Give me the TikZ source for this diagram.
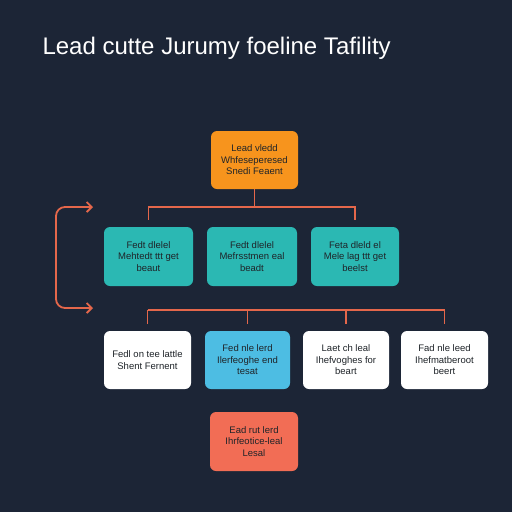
\documentclass[tikz,border=0pt]{standalone}
\usepackage{fontspec}
\setmainfont{Liberation Sans}
\usetikzlibrary{arrows.meta,calc}
\definecolor{bgnavy}{HTML}{1C2536}
\definecolor{wirered}{HTML}{E4674B}
\definecolor{leadorange}{HTML}{F7941D}
\definecolor{leadteal}{HTML}{2BB8B3}
\definecolor{leadblue}{HTML}{4DBDE3}
\definecolor{leadred}{HTML}{F26D55}
\definecolor{inkdark}{HTML}{1F2429}
\tikzset{
  leadbox/.style={rounded corners=6pt,align=center,inner sep=2pt,
    font=\fontsize{9.5}{11.5}\selectfont,text=inkdark},
  wire/.style={draw=wirered,line width=1.8pt}
}
\begin{document}
\begin{tikzpicture}[x=1pt,y=-1pt]
			\fill[bgnavy](0,0) rectangle (512,512);
			\node[anchor=base west,text=white,font=\fontsize{24}{28}\selectfont] (title) at(39,54){Lead cutte Jurumy foeline Tafility};
			% top box
			\node[leadbox,fill=leadorange,minimum width=87pt,minimum height=58pt] (top) at(254.5,160){Lead vledd\\Whfeseperesed\\Snedi Feaent};
			% teal row
			\node[leadbox,fill=leadteal,minimum width=89pt,minimum height=59pt] (t1) at(148.5,256.5){Fedt dlelel\\Mehtedt ttt get\\beaut};
			\node[leadbox,fill=leadteal,minimum width=90pt,minimum height=59pt] (t2) at(252,256.5){Fedt dlelel\\Mefrsstmen eal\\beadt};
			\node[leadbox,fill=leadteal,minimum width=88pt,minimum height=59pt] (t3) at(355,256.5){Feta dleld el\\Mele lag ttt get\\beelst};
			% second row
			\node[leadbox,fill=white,minimum width=87pt,minimum height=58pt] (b1) at(147.5,360){Fedl on tee lattle\\Shent Fernent};
			\node[leadbox,fill=leadblue,minimum width=85pt,minimum height=58pt] (b2) at(247.5,360){Fed nle lerd\\Ilerfeoghe end\\tesat};
			\node[leadbox,fill=white,minimum width=86pt,minimum height=58pt] (b3) at(346,360){Laet ch leal\\Ihefvoghes for\\beart};
			\node[leadbox,fill=white,minimum width=87pt,minimum height=58pt] (b4) at(444.5,360){Fad nle leed\\Ihefmatberoot\\beert};
			% bottom box
			\node[leadbox,fill=leadred,minimum width=88pt,minimum height=59pt] (last) at(254,441.5){Ead rut lerd\\Ihrfeotice-leal\\Lesal};
			% connectors
			\draw[wire](top.south)--++(0,18) coordinate(bus1);
			\draw[wire,shorten >=7pt](bus1)-|(t1.north);
			\draw[wire,shorten >=7pt](bus1)-|(t3.north);
			\coordinate (bus2) at(0,310);
			\draw[wire](b1.north|-bus2)--(b4.north|-bus2);
			\foreach \b in {b1,b2,b3,b4}
			\draw[wire,shorten >=7pt](\b.north|-bus2)--(\b.north);
			% loop arrow
			\coordinate (la) at(93,207);
			\coordinate (lb) at(93,308);
			\draw[wire,rounded corners=9pt,{Straight Barb[length=5pt,width=10pt]}-{Straight Barb[length=5pt,width=10pt]}](la)-|(56,308)--(lb);
\end{tikzpicture}
\end{document}
